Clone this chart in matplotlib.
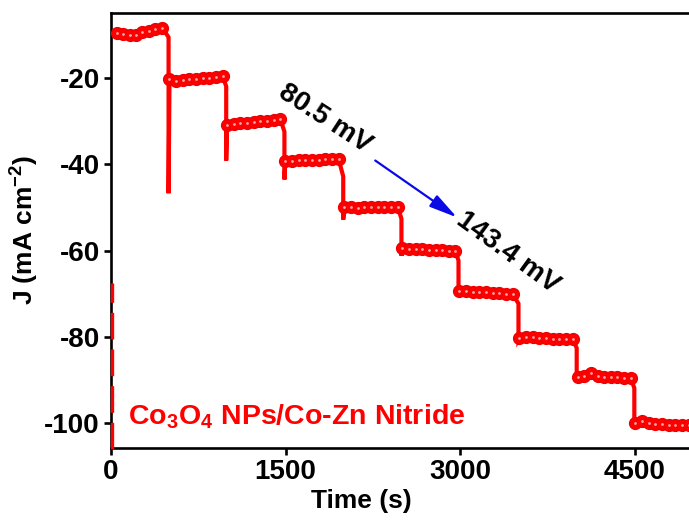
import numpy as np
import matplotlib.pyplot as plt

plt.rcParams.update({
    "font.family": "Liberation Sans",
    "font.weight": "bold",
    "font.size": 19,
    "mathtext.fontset": "custom",
    "mathtext.rm": "Liberation Sans",
    "mathtext.bf": "Liberation Sans:bold",
    "axes.linewidth": 1.9,
    "axes.unicode_minus": False,
})

# chronoamperometry, one list of marker points per potential step
step_times = [
    [50, 105, 160, 215, 270, 325, 380, 440],
    [503, 560, 617, 674, 731, 788, 845, 902, 960],
    [998, 1055, 1112, 1169, 1226, 1283, 1340, 1397, 1455],
    [1498, 1555, 1612, 1669, 1726, 1783, 1840, 1897, 1955],
    [2005, 2062, 2119, 2176, 2233, 2290, 2347, 2404, 2462],
    [2503, 2560, 2617, 2674, 2731, 2788, 2845, 2902, 2955],
    [2993, 3050, 3107, 3164, 3221, 3278, 3335, 3392, 3450],
    [3508, 3565, 3622, 3679, 3736, 3793, 3850, 3907, 3965],
    [4008, 4065, 4122, 4179, 4236, 4293, 4350, 4407, 4463],
    [4505, 4562, 4619, 4676, 4733, 4790, 4847, 4904, 4965],
]
step_J = [
    [-9.5, -9.7, -10.0, -9.9, -9.4, -9.0, -8.6, -8.3],
    [-20.1, -20.6, -20.5, -20.3, -20.2, -20.0, -19.9, -19.8, -19.6],
    [-30.8, -30.6, -30.5, -30.3, -30.2, -30.0, -29.9, -29.7, -29.5],
    [-39.2, -39.1, -39.0, -39.0, -38.9, -38.9, -38.8, -38.8, -38.7],
    [-50.0, -50.0, -50.1, -50.0, -50.0, -49.9, -49.9, -49.9, -49.8],
    [-59.5, -59.6, -59.6, -59.7, -59.8, -59.8, -59.9, -60.0, -60.0],
    [-69.3, -69.4, -69.5, -69.6, -69.7, -69.8, -69.9, -70.0, -70.1],
    [-80.2, -80.0, -80.1, -80.3, -80.3, -80.4, -80.4, -80.5, -80.5],
    [-89.3, -89.2, -88.4, -89.1, -89.3, -89.4, -89.4, -89.5, -89.5],
    [-99.9, -99.5, -100.1, -100.2, -100.3, -100.4, -100.4, -100.5, -100.5],
]
# transient spike at the start of each step (step 0 has none)
spike_t = [None, 495, 990, 1490, 1995, 2495, 2985, 3500, 4000, 4495]
spike_top = [None, -10.5, -21.9, -32.4, -42.8, -52.6, -62.3, -72.3, -82.6, -91.9]
spike_bot = [None, -46.7, -39.1, -43.5, -52.8, -61.2, -70.3, -80.6, -90.4, -100.9]

# initial transient at t = 0
init_t = [10, 10]
init_J = [-106, -67.5]

red = "#ff0000"

fig = plt.figure(figsize=(6.89, 5.28), dpi=100)
ax = fig.add_axes([0.161, 0.1515, 0.845, 0.8245])

path_t, path_J = [], []
for k in range(len(step_times)):
    if spike_t[k] is not None:
        path_t += [spike_t[k], spike_t[k]]
        path_J += [spike_top[k], spike_bot[k]]
    path_t += step_times[k]
    path_J += step_J[k]

ax.plot(init_t, init_J, color=red, lw=2.4, ls=(0, (8, 3)), zorder=3, clip_on=False)
ax.plot(path_t, path_J, color=red, lw=3, zorder=3, solid_joinstyle="miter")
all_t = np.concatenate([np.array(s) for s in step_times])
all_J = np.concatenate([np.array(s) for s in step_J])
ax.plot(all_t, all_J, ls="none", marker="o", ms=8.5, mfc=red, mec="#f00000", mew=1, zorder=4)
ax.plot(all_t, all_J, ls="none", marker="o", ms=2.0, mfc="#ffa8a8", mec="none", zorder=5)

ax.set_xlim(0, 5000)
ax.set_ylim(-105.8, -4.8)
ax.set_xticks([0, 1500, 3000, 4500])
ax.set_yticks([-20, -40, -60, -80, -100])
ax.tick_params(direction="out", length=5, width=1.9, labelsize=20, pad=3)
ax.spines["right"].set_visible(False)
for lab in ax.get_xticklabels() + ax.get_yticklabels():
    lab.set_fontweight("bold")

ax.set_xlabel("Time (s)", fontsize=19, fontweight="bold")
ax.xaxis.set_label_coords(0.43, -0.095)
ax.set_ylabel(r"J (mA cm$^{-2}$)", fontsize=19, fontweight="bold", labelpad=3)

ax.text(1840, -29.3, "80.5 mV", rotation=-33, rotation_mode="anchor",
        ha="center", va="center", fontsize=20, fontweight="bold")
ax.text(3405, -60.5, "143.4 mV", rotation=-36, rotation_mode="anchor",
        ha="center", va="center", fontsize=20, fontweight="bold")
ax.annotate("", xy=(2972, -52.3), xytext=(2270, -39.1),
            arrowprops=dict(arrowstyle="-|>,head_length=0.9,head_width=0.22",
                            color="#0a0ae6", lw=1.6, shrinkA=0, shrinkB=0))

ax.text(150, -98.6, r"Co$_{\mathbf{3}}$O$_{\mathbf{4}}$ NPs/Co-Zn Nitride",
        color=red, fontsize=20.5, fontweight="bold", ha="left", va="center")

fig.savefig("out.png", dpi=100)
